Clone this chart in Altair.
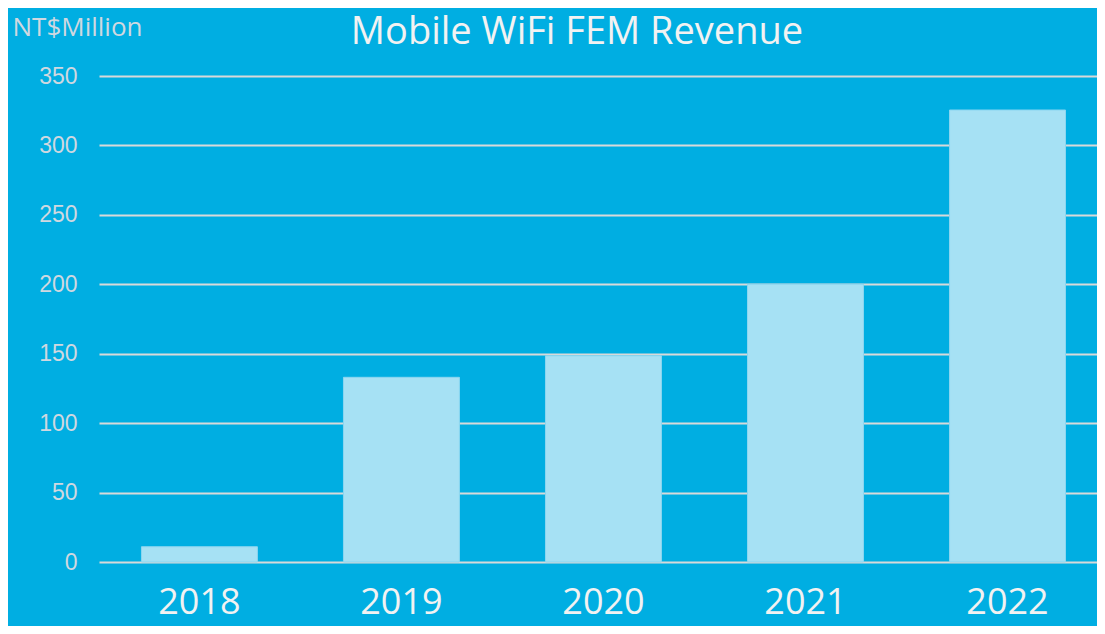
import altair as alt
import pandas as pd

years = ["2018", "2019", "2020", "2021", "2022"]
revenue = [11, 133, 148.5, 200, 325.5]
y_ticks = [0, 50, 100, 150, 200, 250, 300, 350]

df = pd.DataFrame({"year": years, "revenue": revenue})

bars = alt.Chart(df).mark_bar(
    color="#A6E1F4", stroke="#8CD6F0", strokeWidth=1
).encode(
    x=alt.X("year:N", sort=years,
            scale=alt.Scale(paddingInner=0.426, paddingOuter=0.183, align=0.574),
            axis=alt.Axis(title=None, labelAngle=0, labelFont="Open Sans",
                          labelFontSize=36, labelColor="#F2F2F2",
                          labelBaseline="bottom", labelPadding=59,
                          ticks=False, domain=False, grid=False)),
    y=alt.Y("revenue:Q",
            scale=alt.Scale(domain=[0, 350], nice=False),
            axis=alt.Axis(values=y_ticks, title="NT$Million", titleAngle=0,
                          titleX=-87, titleY=-41, titleAlign="left",
                          titleBaseline="alphabetic", titleFont="Open Sans",
                          titleFontSize=26, titleFontWeight="normal",
                          titleColor="#D0D8E0",
                          labelFont="Liberation Sans", labelFontSize=23,
                          labelColor="#D0D8E0", labelPadding=22,
                          ticks=False, domain=False,
                          grid=True, gridColor="#D9D9D9", gridWidth=2))
)

chart = bars.properties(
    width=998, height=486,
    background="#00AEE2",
    autosize=alt.AutoSizeParams(type="none"),
    padding={"left": 91, "top": 68, "right": 0, "bottom": 64},
    title=alt.TitleParams("Mobile WiFi FEM Revenue", font="Open Sans",
                          fontSize=38, fontWeight="normal", color="#F2F2F2",
                          anchor="middle", dx=-21, offset=-38),
).configure_view(stroke=None)

chart.save("out.html", embed_options={"renderer": "svg", "actions": False})
